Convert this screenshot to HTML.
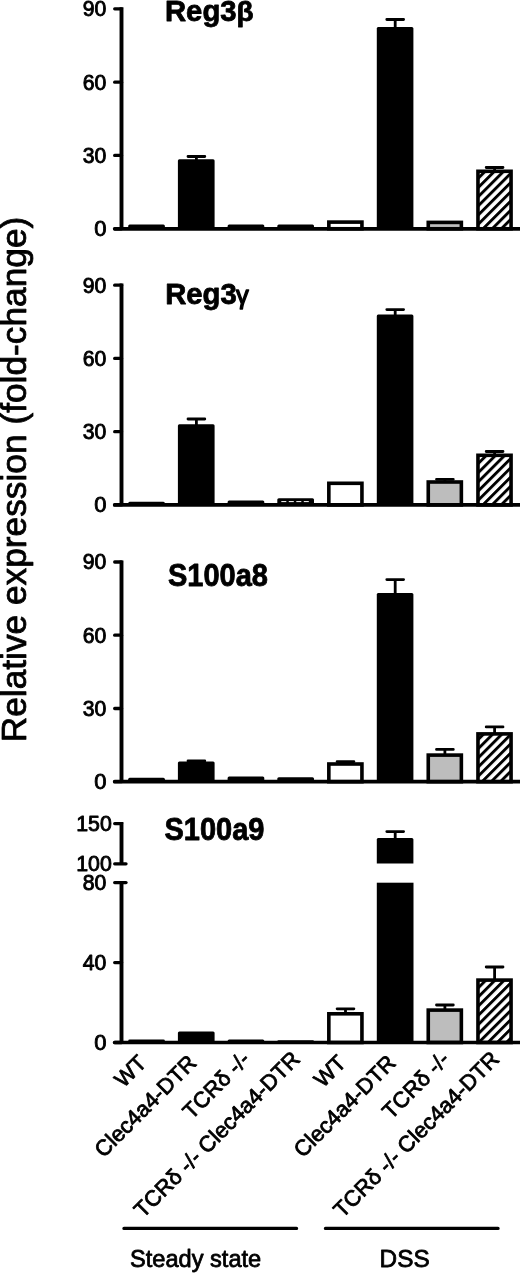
<!DOCTYPE html>
<html lang="en"><head><meta charset="utf-8"><title>Relative expression (fold-change)</title>
<style>
html,body{margin:0;padding:0;background:#fff;}
body{width:520px;height:1273px;overflow:hidden;}
svg{display:block;}
text{font-family:"Liberation Sans",Arial,Helvetica,sans-serif;fill:#000;stroke:#000;stroke-width:0.8px;stroke-linejoin:round;}
.xl{stroke-width:0.8px;}.tk{stroke-width:0.9px;}
</style></head><body>
<svg width="520" height="1273" viewBox="0 0 520 1273">
<defs>
<pattern id="hatch" patternUnits="userSpaceOnUse" y="0.95" width="6.5" height="6.505" patternTransform="rotate(-45)">
<rect width="6.5" height="6.505" fill="#fff"/><rect y="0" width="6.5" height="2.9" fill="#000"/>
</pattern>
</defs>
<rect width="520" height="1273" fill="#fff"/>
<text transform="translate(25.8 742.3) rotate(-90)" font-size="35.6" textLength="525.6" lengthAdjust="spacingAndGlyphs">Relative expression (fold-change)</text>
<path d="M121.5 7.2V228.8" stroke="#000" stroke-width="3.9"/>
<path d="M114.7 8.8H121.5" stroke="#000" stroke-width="3.3" stroke-linecap="round"/>
<text class="tk" x="106.4" y="16.1" font-size="22" text-anchor="end" textLength="23.6" lengthAdjust="spacingAndGlyphs">90</text>
<path d="M114.7 82.2H121.5" stroke="#000" stroke-width="3.3" stroke-linecap="round"/>
<text class="tk" x="106.4" y="89.5" font-size="22" text-anchor="end" textLength="23.6" lengthAdjust="spacingAndGlyphs">60</text>
<path d="M114.7 155.4H121.5" stroke="#000" stroke-width="3.3" stroke-linecap="round"/>
<text class="tk" x="106.4" y="162.8" font-size="22" text-anchor="end" textLength="23.6" lengthAdjust="spacingAndGlyphs">30</text>
<path d="M114.7 228.8H121.5" stroke="#000" stroke-width="3.3" stroke-linecap="round"/>
<text class="tk" x="106.4" y="236.1" font-size="22" text-anchor="end">0</text>
<path d="M128.2 228.8V226.0Q128.2 224.5 129.7 224.5H163.4Q164.9 224.5 164.9 226.0V228.8Z" fill="#000"/>
<path d="M188.0 156.5H204.8M196.4 156.5V160.2" stroke="#000" stroke-width="2.8" stroke-linecap="round" fill="none"/>
<path d="M177.9 228.8V160.7Q177.9 159.2 179.4 159.2H213.1Q214.6 159.2 214.6 160.7V228.8Z" fill="#000"/>
<path d="M227.6 228.8V226.0Q227.6 224.5 229.1 224.5H262.8Q264.3 224.5 264.3 226.0V228.8Z" fill="#000"/>
<path d="M277.3 228.8V226.0Q277.3 224.5 278.8 224.5H312.5Q314.0 224.5 314.0 226.0V228.8Z" fill="#000"/>
<rect x="328.84" y="222.10" width="33.10" height="6.65" fill="#fff" stroke="#000" stroke-width="3.6" stroke-linejoin="miter"/>
<path d="M386.8 19.5H403.6M395.2 19.5V28.0" stroke="#000" stroke-width="2.8" stroke-linecap="round" fill="none"/>
<path d="M376.8 228.8V28.5Q376.8 27.0 378.2 27.0H411.9Q413.4 27.0 413.4 28.5V228.8Z" fill="#000"/>
<rect x="428.26" y="222.40" width="33.10" height="6.35" fill="#bdbdbd" stroke="#000" stroke-width="3.6" stroke-linejoin="miter"/>
<path d="M486.2 167.5H503.0M494.6 167.5V170.5" stroke="#000" stroke-width="2.8" stroke-linecap="round" fill="none"/>
<rect x="477.97" y="171.30" width="33.10" height="57.45" fill="url(#hatch)" stroke="#000" stroke-width="3.6" stroke-linejoin="miter"/>
<path d="M114.7 228.8H521" stroke="#000" stroke-width="3.7" stroke-linecap="round"/>
<text x="165.0" y="20.9" font-size="29.3" font-weight="bold" stroke-width="0.4"><tspan textLength="71.5" lengthAdjust="spacingAndGlyphs">Reg3</tspan><tspan dx="0" style="font-weight:bold" font-size="28">β</tspan></text>
<path d="M121.5 283.6V504.9" stroke="#000" stroke-width="3.9"/>
<path d="M114.7 285.2H121.5" stroke="#000" stroke-width="3.3" stroke-linecap="round"/>
<text class="tk" x="106.4" y="292.5" font-size="22" text-anchor="end" textLength="23.6" lengthAdjust="spacingAndGlyphs">90</text>
<path d="M114.7 358.4H121.5" stroke="#000" stroke-width="3.3" stroke-linecap="round"/>
<text class="tk" x="106.4" y="365.7" font-size="22" text-anchor="end" textLength="23.6" lengthAdjust="spacingAndGlyphs">60</text>
<path d="M114.7 431.7H121.5" stroke="#000" stroke-width="3.3" stroke-linecap="round"/>
<text class="tk" x="106.4" y="439.0" font-size="22" text-anchor="end" textLength="23.6" lengthAdjust="spacingAndGlyphs">30</text>
<path d="M114.7 504.9H121.5" stroke="#000" stroke-width="3.3" stroke-linecap="round"/>
<text class="tk" x="106.4" y="512.2" font-size="22" text-anchor="end">0</text>
<path d="M128.2 504.9V503.3Q128.2 501.8 129.7 501.8H163.4Q164.9 501.8 164.9 503.3V504.9Z" fill="#000"/>
<path d="M188.0 419.0H204.8M196.4 419.0V425.2" stroke="#000" stroke-width="2.8" stroke-linecap="round" fill="none"/>
<path d="M177.9 504.9V425.7Q177.9 424.2 179.4 424.2H213.1Q214.6 424.2 214.6 425.7V504.9Z" fill="#000"/>
<path d="M227.6 504.9V502.1Q227.6 500.6 229.1 500.6H262.8Q264.3 500.6 264.3 502.1V504.9Z" fill="#000"/>
<path d="M277.3 504.9V499.8Q277.3 498.3 278.8 498.3H312.5Q314.0 498.3 314.0 499.8V504.9Z" fill="#000"/>
<path d="M281.3 501.6H311.0" stroke="#fff" stroke-width="1" stroke-dasharray="5 2.5"/>
<rect x="328.84" y="483.30" width="33.10" height="21.60" fill="#fff" stroke="#000" stroke-width="3.6" stroke-linejoin="miter"/>
<path d="M386.8 309.6H403.6M395.2 309.6V315.6" stroke="#000" stroke-width="2.8" stroke-linecap="round" fill="none"/>
<path d="M376.8 504.9V316.1Q376.8 314.6 378.2 314.6H411.9Q413.4 314.6 413.4 316.1V504.9Z" fill="#000"/>
<path d="M436.5 479.3H453.3M444.9 479.3V481.2" stroke="#000" stroke-width="2.8" stroke-linecap="round" fill="none"/>
<rect x="428.26" y="482.00" width="33.10" height="22.90" fill="#bdbdbd" stroke="#000" stroke-width="3.6" stroke-linejoin="miter"/>
<path d="M486.2 451.5H503.0M494.6 451.5V454.5" stroke="#000" stroke-width="2.8" stroke-linecap="round" fill="none"/>
<rect x="477.97" y="455.30" width="33.10" height="49.60" fill="url(#hatch)" stroke="#000" stroke-width="3.6" stroke-linejoin="miter"/>
<path d="M114.7 504.9H521" stroke="#000" stroke-width="3.7" stroke-linecap="round"/>
<text x="165.2" y="303.9" font-size="29.3" font-weight="bold" stroke-width="0.4"><tspan textLength="71.5" lengthAdjust="spacingAndGlyphs">Reg3</tspan><tspan dx="-0.8" style="font-weight:normal;stroke-width:1.3px" font-size="25.5">γ</tspan></text>
<path d="M121.5 560.4V781.7" stroke="#000" stroke-width="3.9"/>
<path d="M114.7 562.0H121.5" stroke="#000" stroke-width="3.3" stroke-linecap="round"/>
<text class="tk" x="106.4" y="569.3" font-size="22" text-anchor="end" textLength="23.6" lengthAdjust="spacingAndGlyphs">90</text>
<path d="M114.7 635.2H121.5" stroke="#000" stroke-width="3.3" stroke-linecap="round"/>
<text class="tk" x="106.4" y="642.5" font-size="22" text-anchor="end" textLength="23.6" lengthAdjust="spacingAndGlyphs">60</text>
<path d="M114.7 708.5H121.5" stroke="#000" stroke-width="3.3" stroke-linecap="round"/>
<text class="tk" x="106.4" y="715.8" font-size="22" text-anchor="end" textLength="23.6" lengthAdjust="spacingAndGlyphs">30</text>
<path d="M114.7 781.7H121.5" stroke="#000" stroke-width="3.3" stroke-linecap="round"/>
<text class="tk" x="106.4" y="789.0" font-size="22" text-anchor="end">0</text>
<path d="M128.2 781.7V779.2Q128.2 777.7 129.7 777.7H163.4Q164.9 777.7 164.9 779.2V781.7Z" fill="#000"/>
<path d="M188.0 761.0H204.8M196.4 761.0V762.5" stroke="#000" stroke-width="2.8" stroke-linecap="round" fill="none"/>
<path d="M177.9 781.7V763.0Q177.9 761.5 179.4 761.5H213.1Q214.6 761.5 214.6 763.0V781.7Z" fill="#000"/>
<path d="M227.6 781.7V777.9Q227.6 776.4 229.1 776.4H262.8Q264.3 776.4 264.3 777.9V781.7Z" fill="#000"/>
<path d="M277.3 781.7V778.8Q277.3 777.3 278.8 777.3H312.5Q314.0 777.3 314.0 778.8V781.7Z" fill="#000"/>
<path d="M337.1 761.6H353.9M345.5 761.6V763.2" stroke="#000" stroke-width="2.8" stroke-linecap="round" fill="none"/>
<rect x="328.84" y="764.00" width="33.10" height="17.70" fill="#fff" stroke="#000" stroke-width="3.6" stroke-linejoin="miter"/>
<path d="M386.8 579.6H403.6M395.2 579.6V594.0" stroke="#000" stroke-width="2.8" stroke-linecap="round" fill="none"/>
<path d="M376.8 781.7V594.5Q376.8 593.0 378.2 593.0H411.9Q413.4 593.0 413.4 594.5V781.7Z" fill="#000"/>
<path d="M436.5 749.4H453.3M444.9 749.4V754.3" stroke="#000" stroke-width="2.8" stroke-linecap="round" fill="none"/>
<rect x="428.26" y="755.10" width="33.10" height="26.60" fill="#bdbdbd" stroke="#000" stroke-width="3.6" stroke-linejoin="miter"/>
<path d="M486.2 726.9H503.0M494.6 726.9V733.1" stroke="#000" stroke-width="2.8" stroke-linecap="round" fill="none"/>
<rect x="477.97" y="733.90" width="33.10" height="47.80" fill="url(#hatch)" stroke="#000" stroke-width="3.6" stroke-linejoin="miter"/>
<path d="M114.7 781.7H521" stroke="#000" stroke-width="3.7" stroke-linecap="round"/>
<text x="168" y="585.7" font-size="30.6" font-weight="bold" stroke-width="0.4"><tspan textLength="100" lengthAdjust="spacingAndGlyphs">S100a8</tspan></text>
<path d="M121.5 822.0V865.0" stroke="#000" stroke-width="3.9"/>
<path d="M121.5 881.0V1042.5" stroke="#000" stroke-width="3.9"/>
<path d="M114.7 823.6H121.5" stroke="#000" stroke-width="3.3" stroke-linecap="round"/>
<text class="tk" x="111.8" y="830.9" font-size="22" text-anchor="end" textLength="35.6" lengthAdjust="spacingAndGlyphs">150</text>
<path d="M114.7 863.8H126" stroke="#000" stroke-width="3.3" stroke-linecap="round"/>
<text x="111.8" y="871.1" font-size="22" text-anchor="end" class="tk" textLength="35.6" lengthAdjust="spacingAndGlyphs">100</text>
<path d="M114.7 882.6H126" stroke="#000" stroke-width="3.3" stroke-linecap="round"/>
<text x="106.4" y="889.9" font-size="22" text-anchor="end" class="tk" textLength="23.6" lengthAdjust="spacingAndGlyphs">80</text>
<path d="M114.7 962.6H121.5" stroke="#000" stroke-width="3.3" stroke-linecap="round"/>
<text class="tk" x="106.4" y="969.9" font-size="22" text-anchor="end" textLength="23.6" lengthAdjust="spacingAndGlyphs">40</text>
<path d="M114.7 1042.5H121.5" stroke="#000" stroke-width="3.3" stroke-linecap="round"/>
<text class="tk" x="106.4" y="1049.8" font-size="22" text-anchor="end">0</text>
<path d="M128.2 1042.5V1041.0Q128.2 1039.6 129.7 1039.6H163.4Q164.9 1039.6 164.9 1041.0V1042.5Z" fill="#000"/>
<path d="M177.9 1042.5V1033.0Q177.9 1031.5 179.4 1031.5H213.1Q214.6 1031.5 214.6 1033.0V1042.5Z" fill="#000"/>
<path d="M227.6 1042.5V1041.0Q227.6 1039.5 229.1 1039.5H262.8Q264.3 1039.5 264.3 1041.0V1042.5Z" fill="#000"/>
<path d="M277.3 1042.5V1041.3Q277.3 1040.2 278.5 1040.2H312.9Q314.0 1040.2 314.0 1041.3V1042.5Z" fill="#000"/>
<path d="M337.1 1008.8H353.9M345.5 1008.8V1013.0" stroke="#000" stroke-width="2.8" stroke-linecap="round" fill="none"/>
<rect x="328.84" y="1013.80" width="33.10" height="28.70" fill="#fff" stroke="#000" stroke-width="3.6" stroke-linejoin="miter"/>
<path d="M386.8 831.6H403.6M395.2 831.6V838.9" stroke="#000" stroke-width="2.8" stroke-linecap="round" fill="none"/>
<path d="M376.8 863.5V839.4Q376.8 837.9 378.2 837.9H411.9Q413.4 837.9 413.4 839.4V863.5Z" fill="#000"/>
<rect x="376.8" y="882.7" width="36.7" height="159.8" fill="#000"/>
<path d="M436.5 1005.0H453.3M444.9 1005.0V1009.3" stroke="#000" stroke-width="2.8" stroke-linecap="round" fill="none"/>
<rect x="428.26" y="1010.10" width="33.10" height="32.40" fill="#bdbdbd" stroke="#000" stroke-width="3.6" stroke-linejoin="miter"/>
<path d="M486.2 967.0H503.0M494.6 967.0V979.3" stroke="#000" stroke-width="2.8" stroke-linecap="round" fill="none"/>
<rect x="477.97" y="980.10" width="33.10" height="62.40" fill="url(#hatch)" stroke="#000" stroke-width="3.6" stroke-linejoin="miter"/>
<path d="M114.7 1042.5H521" stroke="#000" stroke-width="3.7" stroke-linecap="round"/>
<text x="164.5" y="840.1" font-size="30.6" font-weight="bold" stroke-width="0.4"><tspan textLength="100" lengthAdjust="spacingAndGlyphs">S100a9</tspan></text>
<text class="xl" transform="translate(147.8 1064.3) rotate(-45)" font-size="22" text-anchor="end">WT</text>
<text class="xl" transform="translate(197.7 1064.3) rotate(-45)" font-size="22" text-anchor="end">Clec4a4-DTR</text>
<text class="xl" transform="translate(251.3 1060.5) rotate(-45)" font-size="22" text-anchor="end">TCRδ -/-</text>
<text class="xl" transform="translate(301.2 1060.5) rotate(-45)" font-size="22" text-anchor="end">TCRδ -/- Clec4a4-DTR</text>
<text class="xl" transform="translate(347.2 1064.3) rotate(-45)" font-size="22" text-anchor="end">WT</text>
<text class="xl" transform="translate(397.1 1064.3) rotate(-45)" font-size="22" text-anchor="end">Clec4a4-DTR</text>
<text class="xl" transform="translate(450.8 1060.5) rotate(-45)" font-size="22" text-anchor="end">TCRδ -/-</text>
<text class="xl" transform="translate(500.6 1060.5) rotate(-45)" font-size="22" text-anchor="end">TCRδ -/- Clec4a4-DTR</text>
<path d="M124 1228.4H296.5M325.5 1228.4H498" stroke="#000" stroke-width="3.4" stroke-linecap="round"/>
<text x="130" y="1267" font-size="24.6" textLength="131.2" lengthAdjust="spacingAndGlyphs">Steady state</text>
<text x="379.6" y="1267" font-size="24.6" textLength="50.1" lengthAdjust="spacingAndGlyphs">DSS</text>
</svg></body></html>
